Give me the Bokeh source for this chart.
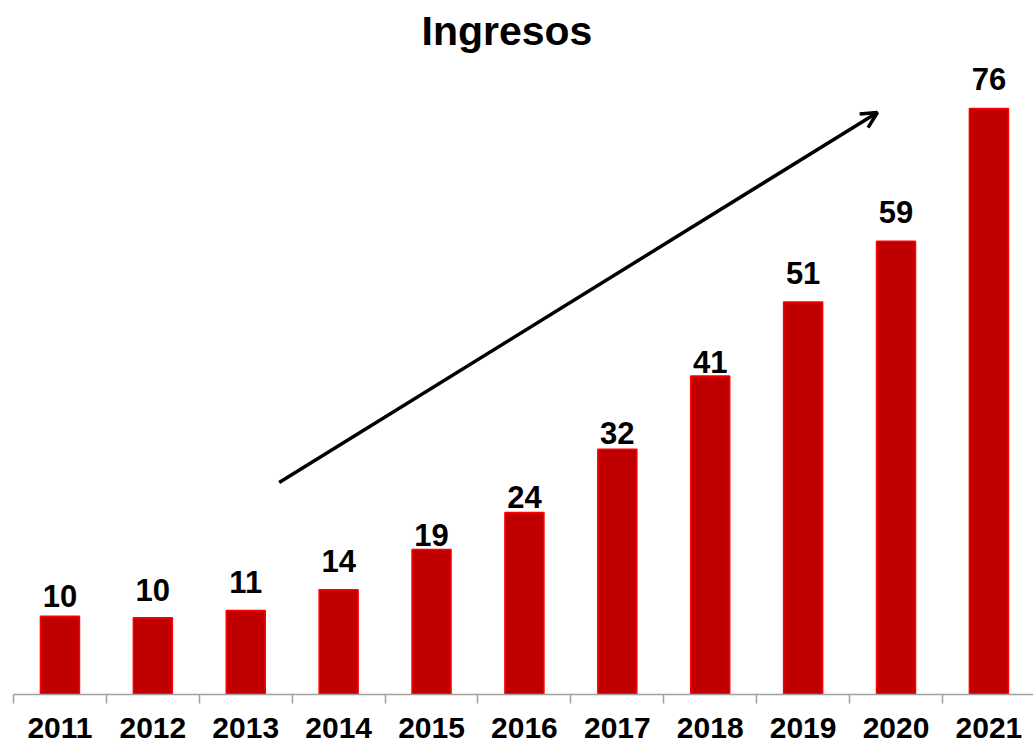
from bokeh.plotting import figure
from bokeh.models import Range1d, FixedTicker, Arrow, OpenHead, ColumnDataSource
from bokeh.core.properties import value
from bokeh.embed import file_html
from bokeh.resources import INLINE

# ---- data ----
years = [2011, 2012, 2013, 2014, 2015, 2016, 2017, 2018, 2019, 2020, 2021]
ingresos = [10.15, 9.95, 10.9, 13.6, 18.8, 23.6, 31.8, 41.3, 50.9, 58.8, 76.0]
value_labels = ["10", "10", "11", "14", "19", "24", "32", "41", "51", "59", "76"]
year_labels = [str(y) for y in years]

# label gap above bar (pixels) as placed in the original
label_gap_px = [9, 17, 17, 18, 4, 5, 5, 3, 18, 18, 19]

# trend arrow (data coordinates)
arrow_start = (2013.36, 27.5)
arrow_end = (2019.80, 75.5)

FONT = "Liberation Sans"

p = figure(width=1033, height=745, output_backend="svg", toolbar_location=None,
           x_range=Range1d(2010.5, 2021.48), y_range=Range1d(0, 82.5),
           y_axis_location=None, title="Ingresos",
           min_border_left=13, min_border_right=0, min_border_top=0, min_border_bottom=51)

p.title.text_font = FONT
p.title.text_font_size = "41px"
p.title.text_font_style = "bold"
p.title.align = "left"
p.title.offset = 408
p.title.text_color = "black"

p.outline_line_color = None
p.xgrid.grid_line_color = None
p.ygrid.grid_line_color = None
p.background_fill_color = "white"
p.border_fill_color = "white"

src = ColumnDataSource(dict(x=years, top=ingresos, lab=value_labels,
                            yoff=[-(g + 11) for g in label_gap_px]))

p.vbar(x="x", top="top", width=0.42, source=src, fill_color="#C00000",
       line_color="#FF0000", line_width=1.5)

p.text(x="x", y="top", text="lab", source=src, y_offset="yoff",
       text_align="center", text_baseline="middle",
       text_font=value(FONT), text_font_style="bold", text_font_size="31px",
       text_color="black")

ax = p.xaxis[0]
ax.ticker = FixedTicker(ticks=years, minor_ticks=[y - 0.5 for y in years] + [years[-1] + 0.5])
ax.major_label_overrides = {y: lab for y, lab in zip(years, year_labels)}
ax.major_tick_line_color = None
ax.major_tick_out = 0
ax.major_tick_in = 0
ax.minor_tick_line_color = "#A0A0A0"
ax.minor_tick_line_width = 1.5
ax.minor_tick_out = 9
ax.minor_tick_in = 0
ax.axis_line_color = "#A0A0A0"
ax.axis_line_width = 1.5
ax.major_label_text_font = FONT
ax.major_label_text_font_style = "bold"
ax.major_label_text_font_size = "30px"
ax.major_label_text_color = "black"
ax.major_label_standoff = 14

p.add_layout(Arrow(end=OpenHead(size=16, line_width=3.5, line_color="black"),
                   x_start=arrow_start[0], y_start=arrow_start[1],
                   x_end=arrow_end[0], y_end=arrow_end[1],
                   line_width=3.5, line_color="black"))

open("out.html", "w").write(file_html(p, INLINE))
